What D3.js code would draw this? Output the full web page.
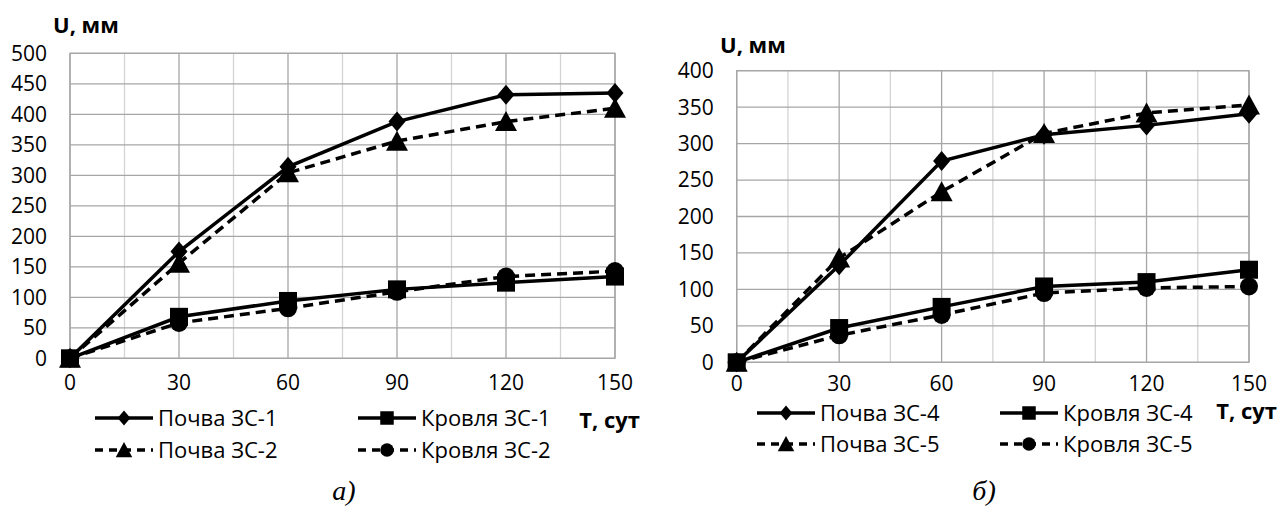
<!DOCTYPE html>
<html>
<head>
<meta charset="utf-8">
<script src="https://cdn.jsdelivr.net/npm/d3@7"></script>
<style>
  body { margin: 0; background: #fff; }
  svg { display: block; }
  text { font-family: "Open Sans", sans-serif; fill: #000; }
</style>
</head>
<body>
<div id="chart"></div>
<script>
// time points, days
const days = [0, 30, 60, 90, 120, 150];
const xTicks = [0, 30, 60, 90, 120, 150];

// chart a) - displacement, mm
const pochva1 = [0, 175, 314, 388, 432, 435];
const krovlya1 = [0, 68, 94, 113, 124, 134];
const pochva2 = [0, 156, 304, 356, 388, 410];
const krovlya2 = [0, 58, 82, 109, 134, 143];
const yTicksA = [0, 50, 100, 150, 200, 250, 300, 350, 400, 450, 500];

// chart б)
const pochva4 = [0, 133, 276, 312, 325, 341];
const krovlya4 = [0, 47, 76, 104, 110, 127];
const pochva5 = [0, 143, 234, 314, 342, 353];
const krovlya5 = [0, 37, 65, 95, 102, 104];
const yTicksB = [0, 50, 100, 150, 200, 250, 300, 350, 400];

const namesA = ['Почва ЗС-1', 'Кровля ЗС-1', 'Почва ЗС-2', 'Кровля ЗС-2'];
const namesB = ['Почва ЗС-4', 'Кровля ЗС-4', 'Почва ЗС-5', 'Кровля ЗС-5'];

const svg = d3.select('#chart').append('svg')
    .attr('width', 1280)
    .attr('height', 513);

// marker shapes, r = half size
function markerPath(kind, r) {
    const p = d3.path();
    if (kind === 'diamond') {
        const w = r * 0.85;
        p.moveTo(0, -r); p.lineTo(w, 0); p.lineTo(0, r); p.lineTo(-w, 0); p.closePath();
    } else if (kind === 'square') {
        p.rect(-r, -r, 2 * r, 2 * r);
    } else if (kind === 'triangle') {
        const h = r * 1.9;
        p.moveTo(0, -h / 2 - 1); p.lineTo(r * 1.1, h / 2); p.lineTo(-r * 1.1, h / 2); p.closePath();
    } else {
        p.arc(0, 0, r, 0, Math.PI * 2);
    }
    return p.toString();
}

function drawChart(cfg) {
    const x = d3.scaleLinear().domain([0, 150]).range([cfg.left, cfg.right]);
    const y = d3.scaleLinear().domain([0, cfg.yMax]).range([cfg.bottom, cfg.top]);
    const g = svg.append('g');

    // grid: vertical every 15 days, lighter for odd ones
    const vLines = d3.range(0, 151, 15);
    g.selectAll('.vgrid').data(vLines).enter().append('line')
        .attr('x1', d => x(d)).attr('x2', d => x(d))
        .attr('y1', cfg.top).attr('y2', cfg.bottom)
        .attr('stroke', d => d % 30 === 0 ? '#a6a6a6' : '#d4d4d4')
        .attr('stroke-width', 1.3);
    g.selectAll('.hgrid').data(cfg.yTicks).enter().append('line')
        .attr('x1', cfg.left).attr('x2', cfg.right)
        .attr('y1', d => y(d)).attr('y2', d => y(d))
        .attr('stroke', '#a6a6a6')
        .attr('stroke-width', 1.3);
    g.append('rect')
        .attr('x', cfg.left).attr('y', cfg.top)
        .attr('width', cfg.right - cfg.left).attr('height', cfg.bottom - cfg.top)
        .attr('fill', 'none').attr('stroke', '#a6a6a6').attr('stroke-width', 1.3);

    // axis tick labels
    g.selectAll('.ylab').data(cfg.yTicks).enter().append('text')
        .attr('x', cfg.left - 23).attr('y', d => y(d))
        .attr('dy', '0.35em')
        .attr('text-anchor', 'end')
        .style('font-size', '21px')
        .text(d => d);
    g.selectAll('.xlab').data(xTicks).enter().append('text')
        .attr('x', d => x(d)).attr('y', cfg.xLabY)
        .attr('dy', '0.35em')
        .attr('text-anchor', 'middle')
        .style('font-size', '21px')
        .text(d => d);

    g.append('text')
        .attr('x', cfg.uX).attr('y', cfg.uY).attr('dy', '0.35em')
        .style('font-size', '22px').style('font-weight', 'bold')
        .text('U, мм');
    g.append('text')
        .attr('x', cfg.tX).attr('y', cfg.tY).attr('dy', '0.35em')
        .attr('text-anchor', 'end')
        .style('font-size', '22px').style('font-weight', 'bold')
        .text('T, сут');

    const line = d3.line().x((d, i) => x(days[i])).y(d => y(d));

    cfg.series.forEach(s => {
        g.append('path')
            .datum(s.values)
            .attr('d', line)
            .attr('fill', 'none')
            .attr('stroke', '#000')
            .attr('stroke-width', 3.5)
            .attr('stroke-dasharray', s.dashed ? '10,6' : null);
        g.selectAll(null).data(s.values).enter().append('path')
            .attr('transform', (d, i) => `translate(${x(days[i])},${y(d)})`)
            .attr('d', markerPath(s.marker, s.r))
            .attr('fill', '#000');
    });

    // legend, two rows x two columns
    cfg.series.forEach((s, i) => {
        const col = i % 2, row = Math.floor(i / 2);
        const lx0 = cfg.legX[col], lx1 = lx0 + 58;
        const ly = cfg.legY[row];
        const lg = g.append('g');
        lg.append('line')
            .attr('x1', lx0).attr('x2', lx1)
            .attr('y1', ly).attr('y2', ly)
            .attr('stroke', '#000').attr('stroke-width', 3.5)
            .attr('stroke-dasharray', s.dashed ? '8,6' : null);
        lg.append('path')
            .attr('transform', `translate(${(lx0 + lx1) / 2},${ly})`)
            .attr('d', markerPath(s.marker, s.r * 0.75))
            .attr('fill', '#000');
        lg.append('text')
            .attr('x', lx1 + 5).attr('y', ly).attr('dy', '0.35em')
            .style('font-size', '22px')
            .text(s.name);
    });

    svg.append('text')
        .attr('x', cfg.capX).attr('y', 490).attr('dy', '0.35em')
        .attr('text-anchor', 'middle')
        .style('font-family', '"Liberation Serif", serif')
        .style('font-style', 'italic')
        .style('font-size', '28px')
        .text(cfg.caption);
}

drawChart({
    left: 70, right: 615, top: 53.3, bottom: 358.3, yMax: 500, yTicks: yTicksA,
    xLabY: 383, uX: 53, uY: 25, tX: 640, tY: 420,
    legX: [95, 358], legY: [418, 450],
    capX: 344, caption: 'а)',
    series: [
        { name: namesA[0], values: pochva1, marker: 'diamond', dashed: false, r: 10 },
        { name: namesA[1], values: krovlya1, marker: 'square', dashed: false, r: 9 },
        { name: namesA[2], values: pochva2, marker: 'triangle', dashed: true, r: 10 },
        { name: namesA[3], values: krovlya2, marker: 'circle', dashed: true, r: 9 }
    ]
});

drawChart({
    left: 736.7, right: 1249, top: 70.7, bottom: 362.3, yMax: 400, yTicks: yTicksB,
    xLabY: 384, uX: 720, uY: 45, tX: 1277, tY: 411,
    legX: [757, 1000], legY: [413, 444],
    capX: 984, caption: 'б)',
    series: [
        { name: namesB[0], values: pochva4, marker: 'diamond', dashed: false, r: 10 },
        { name: namesB[1], values: krovlya4, marker: 'square', dashed: false, r: 9 },
        { name: namesB[2], values: pochva5, marker: 'triangle', dashed: true, r: 10 },
        { name: namesB[3], values: krovlya5, marker: 'circle', dashed: true, r: 9 }
    ]
});
</script>
</body>
</html>
